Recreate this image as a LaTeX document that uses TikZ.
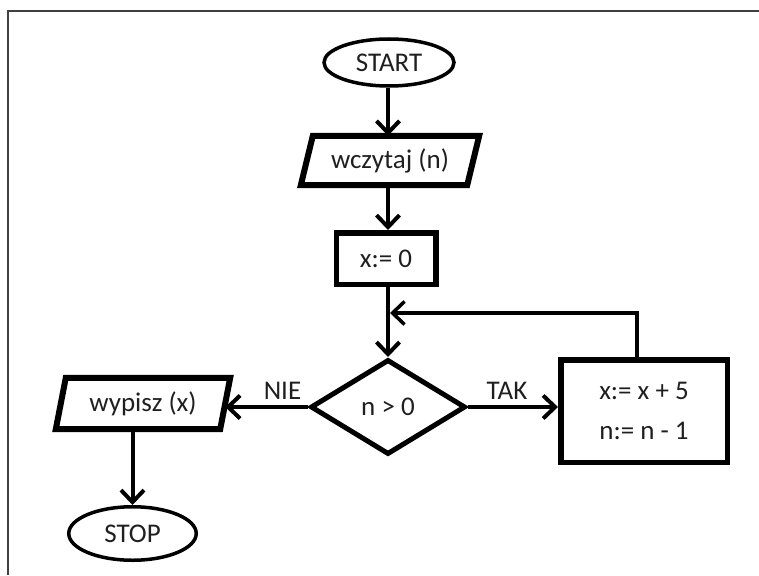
\documentclass[tikz,border=0pt]{standalone}
\usepackage{fontspec}
\setmainfont{Carlito}
\usetikzlibrary{shapes.geometric,arrows.meta}
\begin{document}
\begin{tikzpicture}[x=1pt,y=-1pt,
  every node/.style={font=\fontsize{27}{40}\selectfont, text=black!88, inner sep=0pt},
  term/.style={ellipse, draw, line width=3.5pt},
  procbox/.style={rectangle, draw, line width=5.5pt},
  iobox/.style={rectangle},
  ioedge/.style={line width=6pt, line join=miter},
  decbox/.style={diamond, draw, line width=5pt, aspect=1.6},
  flow/.style={line width=4pt, -{Straight Barb[length=12pt,width=23pt]}},
  backflow/.style={line width=3.5pt, -{Straight Barb[length=12pt,width=23pt]}},
  lbl/.style={anchor=base},
  frame/.style={line width=2pt, draw=black!75}]
\useasboundingbox (0,0) rectangle (759,575);
\draw[frame] (8,575) -- (8,11) -- (759,11);

% nodes
\node[term, minimum width=130pt, minimum height=47pt] (start) at (389,62.5) {START};
\node[iobox, minimum width=166pt, minimum height=49pt] (wcz) at (390,160.5) {wczytaj (n)};
\draw[ioedge] ([xshift=6pt]wcz.north west) -- ([xshift=6pt]wcz.north east)
  -- ([xshift=-6pt]wcz.south east) -- ([xshift=-6pt]wcz.south west) -- cycle;
\node[procbox, minimum width=99.5pt, minimum height=51.5pt] (x0) at (386,258.5) {x:= 0};
\node[decbox, minimum width=155pt, minimum height=95pt] (dia) at (388,407) {n > 0};
\node[procbox, minimum width=166.5pt, minimum height=102.5pt, align=center] (box) at (644,411) {x:= x + 5\\n:= n - 1};
\node[iobox, minimum width=164pt, minimum height=51pt] (wyp) at (143,403.5) {wypisz (x)};
\draw[ioedge] ([xshift=5pt]wyp.north west) -- ([xshift=5pt]wyp.north east)
  -- ([xshift=-5pt]wyp.south east) -- ([xshift=-5pt]wyp.south west) -- cycle;
\node[term, minimum width=127.5pt, minimum height=53.5pt] (stop) at (132.5,533.5) {STOP};

\node[lbl] (nie) at (282.5,399) {NIE};
\node[lbl] (tak) at (507,399) {TAK};

% connectors
\draw[flow] (start.south -| dia.north) -- (wcz.north -| dia.north);
\draw[flow] (wcz.south -| dia.north) -- (x0.north -| dia.north);
\draw[flow] (x0.south -| dia.north) -- (dia.north);
\coordinate (fbu) at (637,313);
\coordinate (fbl) at (390,313);
\draw[backflow] (box.north -| fbu) -- (fbu) -- (fbl);
\draw[flow] (dia.east) -- (dia.east -| box.west);
\draw[flow] (dia.west) -- (dia.west -| wyp.east);
\draw[flow] (stop.north |- wyp.south) -- (stop.north);
\end{tikzpicture}
\end{document}
